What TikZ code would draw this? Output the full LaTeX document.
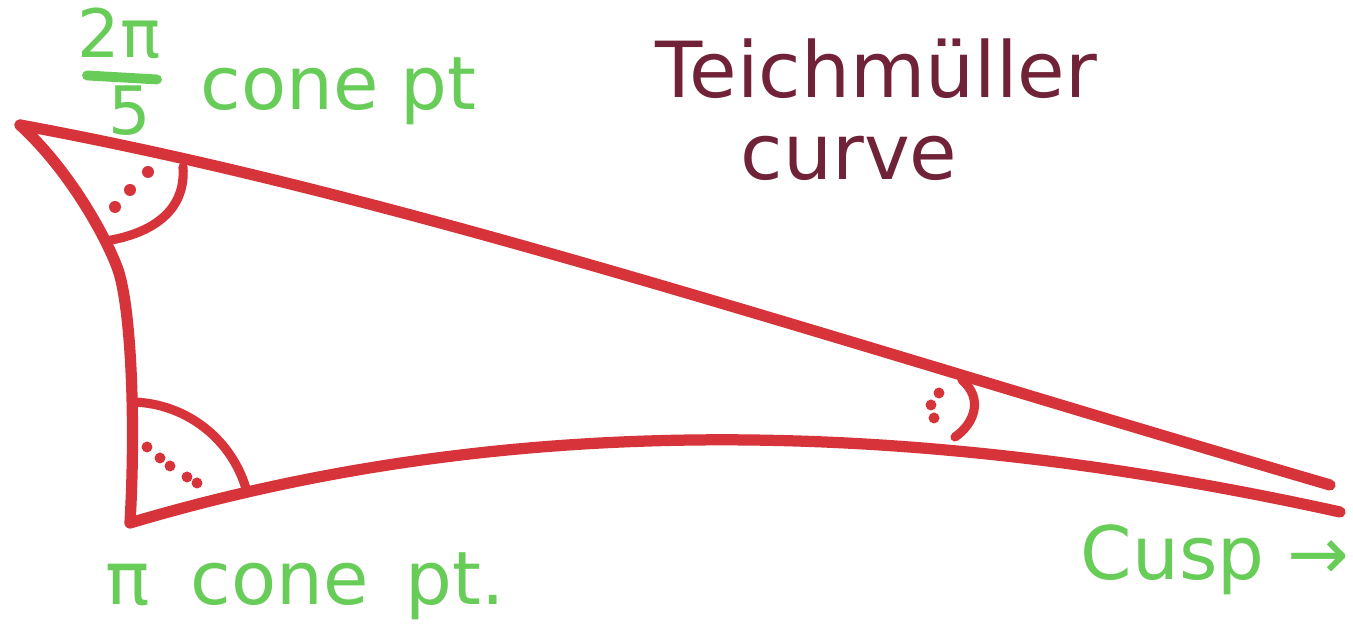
\documentclass[tikz,border=0pt]{standalone}
\usepackage{fontspec}
\setmainfont{DejaVu Sans}
\usetikzlibrary{arrows.meta,positioning}
\definecolor{markred}{RGB}{214,52,58}
\definecolor{markgreen}{RGB}{104,204,88}
\definecolor{markplum}{RGB}{112,34,56}

\begin{document}
\begin{tikzpicture}[>=Latex,
side/.style={draw=markred,line width=3.2pt,line cap=round,line join=round},
tick/.style={draw=markred,line width=2.6pt,line cap=round},
dot/.style={fill=markred},
lbl/.style={anchor=base west,inner sep=0pt,font=\fontsize{21}{25}\selectfont}]
\useasboundingbox (0,0) rectangle (13.53,6.39);
% vertices of the triangle
\coordinate (conetop) at (0.20,5.14);
\coordinate (conebot) at (1.30,1.16);
\coordinate (cusptop) at (13.30,1.54);
\coordinate (cuspbot) at (13.40,1.27);
\coordinate (leftmid) at (1.17,3.72);
% sides
\draw[side] (conetop) .. controls (0.68,4.70) and (1.04,4.06) .. (leftmid)
  .. controls (1.31,3.36) and (1.36,2.19) .. (conebot);
\draw[side] (conetop) .. controls (4.00,4.44) and (8.00,3.09) .. (cusptop);
\draw[side] (conebot) .. controls (5.00,2.26) and (9.00,2.24) .. (cuspbot);
% angle at the 2pi/5 cone point
\draw[tick] (1.83,4.72) .. controls (1.86,4.30) and (1.55,4.06) .. (1.06,3.98);
\foreach \p in {(1.48,4.67),(1.30,4.49),(1.15,4.32)}
  \fill[dot] \p circle (0.06);
% angle at the pi cone point
\draw[tick] ([shift={(88:1.21)}]conebot) arc[start angle=88,end angle=17,radius=1.21];
\foreach \p in {(1.47,1.92),(1.60,1.81),(1.70,1.73),(1.87,1.62),(1.97,1.56)}
  \fill[dot] \p circle (0.055);
% angle near the cusp
\draw[tick] (9.62,2.59) .. controls (9.84,2.40) and (9.74,2.15) .. (9.55,2.02);
\foreach \p in {(9.39,2.46),(9.31,2.34),(9.34,2.21)}
  \fill[dot] \p circle (0.055);
% labels
\node[text=markgreen,font=\fontsize{19}{22}\selectfont,inner sep=0pt] (fracnum) at (1.19,6.06) {2π};
\node[text=markgreen,font=\fontsize{19}{22}\selectfont,inner sep=0pt] (fracden) at (1.30,5.28) {5};
\draw[markgreen,line width=2.8pt,line cap=round] ([shift={(-0.43,0.10)}]fracden.north)
  -- ([shift={(0.27,0.06)}]fracden.north);
\node[lbl,text=markgreen] (toplbl) at (2.00,5.29) {cone\hspace{0.3em}pt};
\node[lbl,text=markplum,font=\fontsize{22}{26}\selectfont] (teich) at (6.55,5.41) {Teichmüller};
\node[lbl,text=markplum,font=\fontsize{22}{26}\selectfont] (curve) at (7.40,4.59) {curve};
\node[lbl,text=markgreen] (botlbl) at (1.05,0.34) {π\hspace{0.55em}cone\hspace{0.5em}pt.};
\node[lbl,text=markgreen] (cusplbl) at (10.80,0.59) {Cusp →};
\end{tikzpicture}
\end{document}
